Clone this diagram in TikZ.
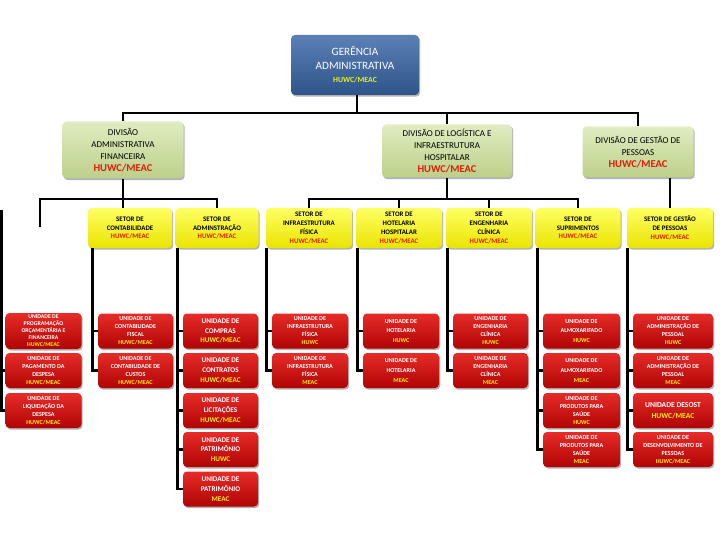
\documentclass[tikz,border=0pt]{standalone}
\usepackage{fontspec}
\setmainfont{Carlito}
\usetikzlibrary{shadows,calc}
\definecolor{uTop}{RGB}{230,44,40}
\definecolor{uBot}{RGB}{176,4,4}
\definecolor{sTop}{RGB}{255,255,100}
\definecolor{sBot}{RGB}{234,228,0}
\definecolor{dTop}{RGB}{224,236,194}
\definecolor{dBot}{RGB}{188,208,136}
\definecolor{gTop}{RGB}{90,128,182}
\definecolor{gBot}{RGB}{46,84,138}
\definecolor{hred}{RGB}{226,28,10}
\definecolor{hyel}{RGB}{255,236,0}
\definecolor{hlime}{RGB}{226,242,30}
\newcommand{\redtxt}[1]{\textcolor{hred}{#1}}
\newcommand{\yeltxt}[1]{\textcolor{hyel}{#1}}
\newcommand{\colconn}[3]{%
  \path (#2.west) ++(-5,0) coordinate (tmpc);
  \foreach \u in {#3}{\draw[conn] (tmpc |- #1.south) |- (\u.west);}%
}
\begin{document}
\begin{tikzpicture}[x=1pt,y=-1pt,
  box/.style={rounded corners=4pt, align=center, inner sep=0pt,
    drop shadow={shadow xshift=1.2pt, shadow yshift=-1.6pt, opacity=0.3, fill=black}},
  unit/.style={box, top color=uTop, bottom color=uBot, text=white,
    font=\fontsize{6.1}{8}\selectfont\bfseries, minimum width=76pt, minimum height=35pt},
  unitL/.style={unit, font=\fontsize{7.2}{9.8}\selectfont\bfseries},
  setor/.style={box, top color=sTop, bottom color=sBot, text=black,
    font=\fontsize{6.9}{8.8}\selectfont\bfseries, minimum width=85pt, minimum height=40pt},
  divis/.style={box, top color=dTop, bottom color=dBot, text=black,
    font=\fontsize{9}{12}\selectfont},
  conn/.style={line width=2.8pt, black}
]
\useasboundingbox (0,0) rectangle (720,540);

% top
\node[box, top color=gTop, bottom color=gBot, text=white, minimum width=128pt, minimum height=60pt,
  font=\fontsize{11.2}{13.5}\selectfont] (top) at (355,65)
  {GERÊNCIA\\ADMINISTRATIVA\\{\fontsize{7.8}{10}\selectfont\bfseries\textcolor{hlime}{HUWC/MEAC}}};

% divisions
\node[divis, minimum width=121pt, minimum height=57pt] (daf) at (123,150)
  {DIVISÃO\\ADMINISTRATIVA\\FINANCEIRA\\{\fontsize{10.5}{12}\selectfont\bfseries\redtxt{HUWC/MEAC}}};
\node[divis, minimum width=130pt, minimum height=53pt] (logd) at (447,151)
  {DIVISÃO DE LOGÍSTICA E\\INFRAESTRUTURA\\HOSPITALAR\\{\fontsize{10.5}{12}\selectfont\bfseries\redtxt{HUWC/MEAC}}};
\node[divis, minimum width=111pt, minimum height=51pt] (gp) at (638,152)
  {DIVISÃO DE GESTÃO DE\\PESSOAS\\{\fontsize{10.5}{12}\selectfont\bfseries\redtxt{HUWC/MEAC}}};

% setores
\node[setor, minimum width=84pt] (scont) at (130,228) {SETOR DE\\CONTABILIDADE\\\redtxt{HUWC/MEAC}};
\node[setor, minimum width=83pt] (sadm) at (217,228) {SETOR DE\\ADMINSTRAÇÃO\\\redtxt{HUWC/MEAC}};
\node[setor, minimum width=86pt] (sinf) at (309,228) {SETOR DE\\INFRAESTRUTURA\\FÍSICA\\\redtxt{HUWC/MEAC}};
\node[setor, minimum width=86pt] (shot) at (399,228) {SETOR DE\\HOTELARIA\\HOSPITALAR\\\redtxt{HUWC/MEAC}};
\node[setor, minimum width=86pt] (seng) at (489,228) {SETOR DE\\ENGENHARIA\\CLÍNICA\\\redtxt{HUWC/MEAC}};
\node[setor, minimum width=85pt] (ssup) at (578,228) {SETOR DE\\SUPRIMENTOS\\\redtxt{HUWC/MEAC}};
\node[setor, minimum width=86pt] (sgp) at (670,228) {SETOR DE GESTÃO\\DE PESSOAS\\\redtxt{HUWC/MEAC}};

% unidades col 1
\node[unit, font=\fontsize{5.8}{7}\selectfont\bfseries, minimum height=36pt] (uprog) at (43.5,331)
  {UNIDADE DE\\PROGRAMAÇÃO\\ORÇAMENTÁRIA E\\FINANCEIRA\\\yeltxt{HUWC/MEAC}};
\node[unit] (upag) at (43.5,370.5) {UNIDADE DE\\PAGAMENTO DA\\DESPESA\\\yeltxt{HUWC/MEAC}};
\node[unit] (uliq) at (43.5,410.5) {UNIDADE DE\\LIQUIDAÇÃO DA\\DESPESA\\\yeltxt{HUWC/MEAC}};
% col 2
\node[unit, minimum width=75pt] (ufis) at (135.5,331) {UNIDADE DE\\CONTABILIDADE\\FISCAL\\\yeltxt{HUWC/MEAC}};
\node[unit, minimum width=75pt] (ucus) at (135.5,370.5) {UNIDADE DE\\CONTABILIDADE DE\\CUSTOS\\\yeltxt{HUWC/MEAC}};
% col 3
\node[unitL, minimum width=75pt] (ucom) at (220.5,331) {UNIDADE DE\\COMPRAS\\\yeltxt{HUWC/MEAC}};
\node[unitL, minimum width=75pt] (ucon) at (220.5,370.5) {UNIDADE DE\\CONTRATOS\\\yeltxt{HUWC/MEAC}};
\node[unitL, minimum width=75pt] (ulic) at (220.5,410.5) {UNIDADE DE\\LICITAÇÕES\\\yeltxt{HUWC/MEAC}};
\node[unitL, minimum width=75pt] (upah) at (220.5,449.5) {UNIDADE DE\\PATRIMÔNIO\\\yeltxt{HUWC}};
\node[unitL, minimum width=75pt] (upam) at (220.5,489) {UNIDADE DE\\PATRIMÔNIO\\\yeltxt{MEAC}};
% col 4
\node[unit] (uinh) at (310,331) {UNIDADE DE\\INFRAESTRUTURA\\FÍSICA\\\yeltxt{HUWC}};
\node[unit] (uinm) at (310,370.5) {UNIDADE DE\\INFRAESTRUTURA\\FÍSICA\\\yeltxt{MEAC}};
% col 5
\node[unit, font=\fontsize{6.1}{9.8}\selectfont\bfseries] (uhoh) at (401,331) {UNIDADE DE\\HOTELARIA\\\yeltxt{HUWC}};
\node[unit, font=\fontsize{6.1}{9.8}\selectfont\bfseries] (uhom) at (401,370.5) {UNIDADE DE\\HOTELARIA\\\yeltxt{MEAC}};
% col 6
\node[unit, minimum width=75pt] (uenh) at (490.5,331) {UNIDADE DE\\ENGENHARIA\\CLÍNICA\\\yeltxt{HUWC}};
\node[unit, minimum width=75pt] (uenm) at (490.5,370.5) {UNIDADE DE\\ENGENHARIA\\CLÍNICA\\\yeltxt{MEAC}};
% col 7
\node[unit, minimum width=77pt, font=\fontsize{6.1}{9.8}\selectfont\bfseries] (ualh) at (581.5,331) {UNIDADE DE\\ALMOXARIFADO\\\yeltxt{HUWC}};
\node[unit, minimum width=77pt, font=\fontsize{6.1}{9.8}\selectfont\bfseries] (ualm) at (581.5,370.5) {UNIDADE DE\\ALMOXARIFADO\\\yeltxt{MEAC}};
\node[unit, minimum width=77pt] (uprh) at (581.5,410.5) {UNIDADE DE\\PRODUTOS PARA\\SAÚDE\\\yeltxt{HUWC}};
\node[unit, minimum width=77pt] (uprm) at (581.5,449.5) {UNIDADE DE\\PRODUTOS PARA\\SAÚDE\\\yeltxt{MEAC}};
% col 8
\node[unit, minimum width=80pt] (uaph) at (673,331) {UNIDADE DE\\ADMINISTRAÇÃO DE\\PESSOAL\\\yeltxt{HUWC}};
\node[unit, minimum width=80pt] (uapm) at (673,370.5) {UNIDADE DE\\ADMINISTRAÇÃO DE\\PESSOAL\\\yeltxt{MEAC}};
\node[unit, minimum width=80pt, font=\fontsize{7.6}{11}\selectfont\bfseries] (udes) at (673,410.5) {UNIDADE DESOST\\\yeltxt{HUWC/MEAC}};
\node[unit, minimum width=80pt] (udev) at (673,449.5) {UNIDADE DE\\DESENVOLVIMENTO DE\\PESSOAS\\\yeltxt{HUWC/MEAC}};

% connectors top
\coordinate (b0) at (357,113);
\draw[conn] (top.south -| b0) -- (b0);
\draw[conn] (daf.north) |- (b0) -| (gp.north);
\draw[conn] (logd.north) -- (logd.north |- b0);

% setor bars
\coordinate (b1) at (40,199);
\coordinate (b1e) at (40,227);
\draw[conn] (b1e) -- (b1) -| (sadm.north);
\draw[conn] (daf.south) -- (daf.south |- scont.north);
\draw[conn] (sinf.north) -- (sinf.north |- b1) -| (ssup.north);
\draw[conn] (logd.south) -- (logd.south |- b1);
\draw[conn] (shot.north) -- (shot.north |- b1);
\draw[conn] (seng.north) -- (seng.north |- b1);
\draw[conn] (sgp.north) -- (sgp.north |- gp.south);

% far left
\coordinate (fl) at (1.4,210);
\draw[conn] (fl) |- (upag.west);
\draw[conn] (fl) |- (uliq.west);

% unit columns
\colconn{scont}{ufis}{ufis,ucus}
\colconn{sadm}{ucom}{ucom,ucon,ulic,upah,upam}
\colconn{sinf}{uinh}{uinh,uinm}
\colconn{shot}{uhoh}{uhoh,uhom}
\colconn{seng}{uenh}{uenh,uenm}
\colconn{ssup}{ualh}{ualh,ualm,uprh,uprm}
\colconn{sgp}{uaph}{uaph,uapm,udes,udev}
\end{tikzpicture}
\end{document}
